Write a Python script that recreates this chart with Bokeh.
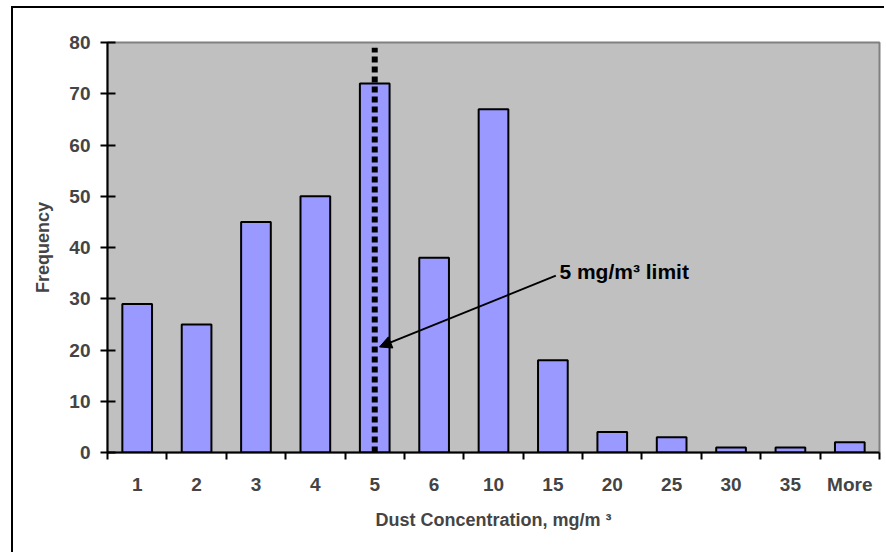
from bokeh.plotting import figure
from bokeh.models import FixedTicker, Range1d, Arrow, NormalHead, Label, ColumnDataSource
from bokeh.embed import file_html
from bokeh.resources import INLINE

categories = ["1", "2", "3", "4", "5", "6", "10", "15", "20", "25", "30", "35", "More"]
frequency = [29, 25, 45, 50, 72, 38, 67, 18, 4, 3, 1, 1, 2]
y_ticks = [0, 10, 20, 30, 40, 50, 60, 70, 80]
limit_category = "5"
limit_top = 79
limit_text = "5 mg/m³ limit"
x_title = "Dust Concentration, mg/m ³"
y_title = "Frequency"

FONT = "Liberation Sans"

xs = [i + 0.5 for i in range(len(categories))]
src = ColumnDataSource(dict(x=xs, top=frequency, cat=categories))

p = figure(width=873, height=546, output_backend="svg", toolbar_location=None,
           x_range=Range1d(0, len(categories)), y_range=Range1d(0, 80),
           min_border_left=94, min_border_top=34, min_border_right=7, min_border_bottom=102)
p.margin = (6, 0, 0, 11)
p.styles = {"border-left": "2px solid black", "border-top": "2px solid black"}

p.background_fill_color = "#C0C0C0"
p.border_fill_color = "white"
p.outline_line_color = "#808080"
p.outline_line_width = 2
p.xgrid.visible = False
p.ygrid.visible = False

p.vbar(x="x", top="top", width=0.5, bottom=0, source=src,
       fill_color="#9999FF", line_color="black", line_width=2)

lx = xs[categories.index(limit_category)]
p.segment(x0=[lx], y0=[0], x1=[lx], y1=[limit_top], line_color="black",
          line_width=6, line_dash="6 4")

p.add_layout(Arrow(end=NormalHead(size=12, fill_color="black", line_color="black"),
                   x_start=7.55, y_start=34.5, x_end=4.58, y_end=20.6,
                   line_width=2, line_color="black"))
p.add_layout(Label(x=7.61, y=35.3, text=limit_text, text_font=FONT,
                   text_font_style="bold", text_font_size="21px",
                   text_baseline="alphabetic", text_color="black"))

xa = p.xaxis[0]
xa.ticker = FixedTicker(ticks=xs, minor_ticks=list(range(0, len(categories) + 1)))
xa.major_label_overrides = {x: c for x, c in zip(xs, categories)}
xa.major_tick_in = 0
xa.major_tick_out = 0
xa.minor_tick_in = 0
xa.minor_tick_out = 7
xa.minor_tick_line_color = "black"
xa.minor_tick_line_width = 2
xa.axis_line_color = "black"
xa.axis_line_width = 2
xa.major_label_text_font = FONT
xa.major_label_text_font_style = "bold"
xa.major_label_text_font_size = "19px"
xa.major_label_standoff = 14
xa.axis_label = x_title
xa.axis_label_text_font = FONT
xa.axis_label_text_font_style = "bold"
xa.axis_label_text_font_size = "18px"
xa.axis_label_standoff = 12

ya = p.yaxis[0]
ya.ticker = FixedTicker(ticks=y_ticks, minor_ticks=[])
ya.major_tick_in = 8
ya.major_tick_out = 7
ya.major_tick_line_color = "black"
ya.major_tick_line_width = 2
ya.axis_line_color = "black"
ya.axis_line_width = 2
ya.major_label_text_font = FONT
ya.major_label_text_font_style = "bold"
ya.major_label_text_font_size = "19px"
ya.major_label_standoff = 10
ya.axis_label = y_title
ya.axis_label_text_font = FONT
ya.axis_label_text_font_style = "bold"
ya.axis_label_text_font_size = "18px"
ya.axis_label_standoff = 13

open("out.html", "w").write(file_html(p, INLINE))
